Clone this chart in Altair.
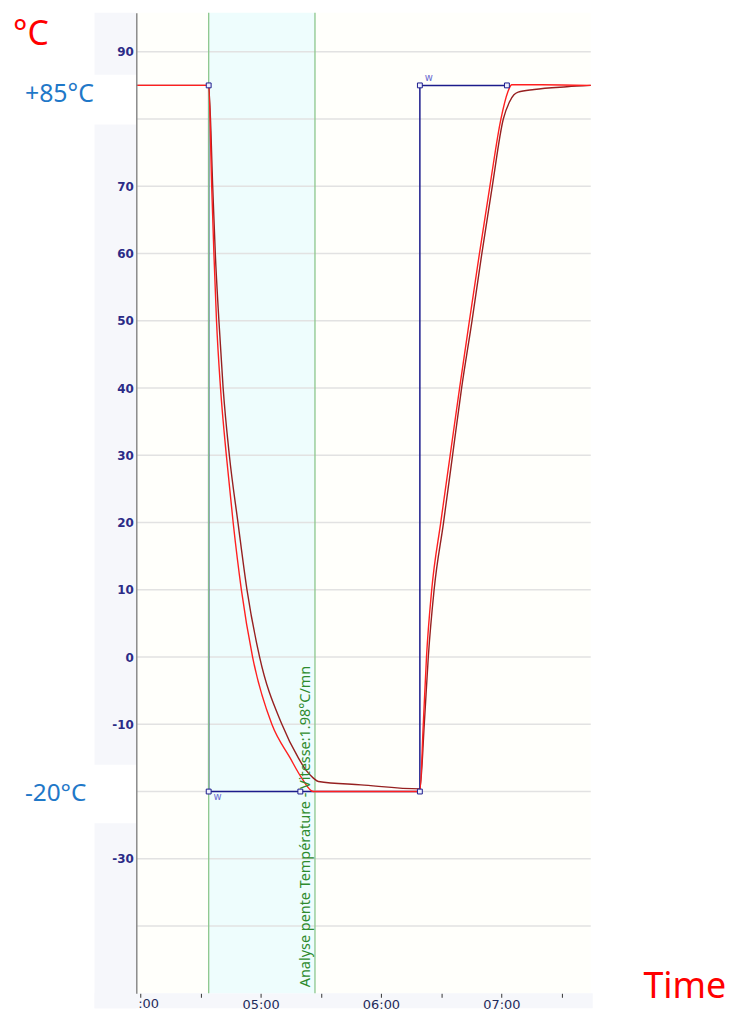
import altair as alt
import pandas as pd

# ---- data (time in seconds, temperature in °C) ----
red_t = [238.0, 274.1, 275.6, 276.7, 278.0, 280.0, 282.9, 286.3, 290.4, 296.0, 305.6, 314.7, 320.5, 326.3,
         379.4, 381.1, 382.7, 385.3, 389.8, 394.5, 399.2, 404.1, 409.1, 414.3, 419.8, 423.2, 425.2, 440.0, 464.6]
red_v = [85.0, 85.0, 70, 60, 50, 40, 30, 20, 10, 0, -10, -15, -18, -20,
         -20, -10, 0, 10, 20, 30, 40, 50, 60, 70, 80, 84, 85.1, 85.1, 85.0]

dark_t = [238.0, 274.1, 276.1, 277.4, 279.2, 281.3, 284.4, 288.7, 293.2, 299.5, 310.6, 318.8, 322.8, 326.3,
          328.8, 350.0, 379.4, 381.6, 383.6, 386.5, 391.2, 395.7, 400.2, 405.4, 410.3, 415.5, 421.0,
          424.0, 426.3, 428.4, 436.4, 452.7, 464.6]
dark_v = [85.0, 85.0, 70, 60, 50, 40, 30, 20, 10, 0, -10, -15, -16.9, -18.0,
          -18.5, -19.0, -19.6, -10, 0, 10, 20, 30, 40, 50, 60, 70, 80,
          82.5, 83.6, 84.0, 84.4, 84.8, 85.0]

sp_t = [274.1, 274.1, 379.4, 379.4, 422.8]
sp_v = [85, -20, -20, 85, 85]
mark_t = [274.1, 274.1, 319.8, 379.4, 379.4, 422.8]
mark_v = [85, -20, -20, -20, 85, 85]
zone_t = [274.1, 327.1]
y_grid = [-40, -30, -20, -10, 0, 10, 20, 30, 40, 50, 60, 70, 80, 90]
x_ticks = [240, 270, 300, 330, 360, 390, 420, 450]
note = "Analyse pente Température - Vitesse:1.98°C/mn"


def line_df(ts, vs):
    return pd.DataFrame({"t": ts, "v": vs, "i": list(range(len(ts)))})


xs = alt.Scale(domain=[238, 464.6], nice=False, zero=False)
ys = alt.Scale(domain=[-50, 95.8], nice=False, zero=False)

xaxis = alt.Axis(values=x_ticks, grid=False, domain=False, title=None, zindex=1,
                 labelExpr="(datum.value % 60 == 0 && datum.value > 240) ? ('0' + floor(datum.value/60) + ':00') : ''",
                 tickSize=4, tickColor="#333333", tickWidth=1, labelPadding=1,
                 labelFont="DejaVu Sans", labelFontSize=13, labelColor="#1e2a5a", labelFlush=False)
yaxis = alt.Axis(values=y_grid, grid=False, title=None, zindex=1, ticks=False, labelPadding=3,
                 labelExpr="(datum.value == 80 || datum.value == -20 || datum.value == -40) ? '' : datum.value",
                 labelFont="DejaVu Sans", labelFontSize=12, labelFontWeight="bold", labelColor="#2b2b87",
                 domainColor="#8a8a8a", domainWidth=1.5)


def X(f):
    return alt.X(f, scale=xs, axis=xaxis, title=None)


def Y(f):
    return alt.Y(f, scale=ys, axis=yaxis, title=None)


one = pd.DataFrame({"a": [0]})

grey_left = alt.Chart(one).mark_rect(color="#f6f7fb").encode(
    x=alt.value(-42), x2=alt.value(0), y=alt.value(0), y2=alt.value(1001))
grey_bottom = alt.Chart(one).mark_rect(color="#f6f7fb").encode(
    x=alt.value(-42), x2=alt.value(459), y=alt.value(986), y2=alt.value(1001))

boxes = alt.Chart(pd.DataFrame({"y1": [86.6, -16.0], "y2": [79.2, -24.7]})).mark_rect(color="#ffffff").encode(
    x=alt.value(-44), x2=alt.value(0), y=Y("y1:Q"), y2="y2:Q")

zone = alt.Chart(pd.DataFrame({"t0": [zone_t[0]], "t1": [zone_t[1]]})).mark_rect(color="#eefdfd").encode(
    x=X("t0:Q"), x2="t1:Q", y=alt.value(0), y2=alt.value(986))

grid = alt.Chart(pd.DataFrame({"g": y_grid})).mark_rule(color="#e2e2e2", strokeWidth=1.5).encode(
    y=Y("g:Q"))

setpoint = alt.Chart(line_df(sp_t, sp_v)).mark_line(color="#1c1c8c", strokeWidth=1.5).encode(
    x=X("t:Q"), y=Y("v:Q"), order="i:Q")

green = alt.Chart(pd.DataFrame({"t": zone_t})).mark_rule(color="#8cc78c", strokeWidth=1.3).encode(
    x=X("t:Q"))

dark = alt.Chart(line_df(dark_t, dark_v)).mark_line(color="#962020", strokeWidth=1.4,
                                                    interpolate="monotone").encode(
    x=X("t:Q"), y=Y("v:Q"), order="i:Q")
red = alt.Chart(line_df(red_t, red_v)).mark_line(color="#ff1f1f", strokeWidth=1.4,
                                                 interpolate="monotone").encode(
    x=X("t:Q"), y=Y("v:Q"), order="i:Q")

squares = alt.Chart(line_df(mark_t, mark_v)).mark_square(size=24, fill="#eef0ff", stroke="#1c1c8c",
                                                         strokeWidth=1, opacity=1).encode(
    x=X("t:Q"), y=Y("v:Q"))

w_low = alt.Chart(pd.DataFrame({"t": [sp_t[1]], "v": [sp_v[1]], "s": ["w"]})).mark_text(
    dx=9, dy=6, fontSize=10, color="#6a6ad0", font="DejaVu Sans").encode(
    x=X("t:Q"), y=Y("v:Q"), text="s:N")
w_high = alt.Chart(pd.DataFrame({"t": [sp_t[3]], "v": [sp_v[3]], "s": ["w"]})).mark_text(
    dx=9, dy=-7, fontSize=10, color="#6a6ad0", font="DejaVu Sans").encode(
    x=X("t:Q"), y=Y("v:Q"), text="s:N")

note_txt = alt.Chart(pd.DataFrame({"t": [322.6], "v": [-49.1], "s": [note]})).mark_text(
    angle=270, align="left", baseline="middle", fontSize=14.5, color="#2e8b2e", font="Noto Sans").encode(
    x=X("t:Q"), y=Y("v:Q"), text="s:N")

deg_c = alt.Chart(one).mark_text(text="°C", align="left", baseline="alphabetic", fontSize=34,
                                 color="#ff0000", font="Noto Sans").encode(x=alt.value(-124), y=alt.value(32))
time_lbl = alt.Chart(one).mark_text(text="Time", align="left", baseline="alphabetic", fontSize=36,
                                    color="#ff0000", font="Noto Sans").encode(x=alt.value(510), y=alt.value(991))
zero_lbl = alt.Chart(one).mark_text(text=":00", align="left", baseline="top", fontSize=13,
                                    color="#1e2a5a", font="DejaVu Sans").encode(x=alt.value(2), y=alt.value(991))

p85 = alt.Chart(pd.DataFrame({"v": [85], "s": ["+85°C"]})).mark_text(
    align="left", baseline="alphabetic", dy=17, fontSize=25, color="#1f78c8", font="Noto Sans").encode(
    x=alt.value(-112), y=Y("v:Q"), text="s:N")
m20 = alt.Chart(pd.DataFrame({"v": [-20], "s": ["-20°C"]})).mark_text(
    align="left", baseline="alphabetic", dy=10, fontSize=24.5, color="#1f78c8", font="Noto Sans").encode(
    x=alt.value(-112), y=Y("v:Q"), text="s:N")

chart = alt.layer(
    grey_left, grey_bottom, boxes, zone, grid, setpoint, green, dark, red, squares,
    w_low, w_high, note_txt, deg_c, time_lbl, zero_lbl, p85, m20
).properties(
    width=457, height=986,
    padding={"left": 129, "top": 2, "right": 135, "bottom": 15},
    autosize=alt.AutoSizeParams(type="none"),
    background="#ffffff",
).configure_view(fill="#fffffb", stroke=None)

chart.save("out.html", embed_options={"renderer": "svg", "actions": False})
